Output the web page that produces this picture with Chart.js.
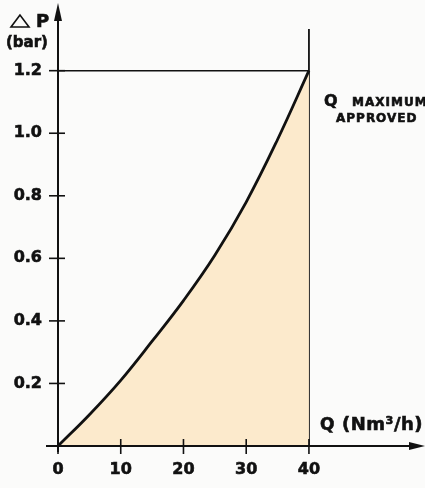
<!DOCTYPE html>
<html>
<head>
<meta charset="utf-8">
<script src="https://cdn.jsdelivr.net/npm/chart.js@4.4.1/dist/chart.umd.min.js"></script>
<style>
  html, body { margin: 0; padding: 0; background: #fbfbfa; }
  #wrap { width: 425px; height: 488px; }
</style>
</head>
<body>
<div id="wrap"><canvas id="myChart" width="425" height="488"></canvas></div>
<script>
// flow Q (Nm3/h) and pressure drop (bar)
const flowValues = [0, 5, 10, 15, 20, 25, 30, 35, 40];
const dropValues = [0, 0.10, 0.21, 0.335, 0.465, 0.61, 0.78, 0.98, 1.2];

const xTickLabels = [0, 10, 20, 30, 40];
const yTickLabels = [0.2, 0.4, 0.6, 0.8, 1.0, 1.2];

const maxFlow = 40;        // Q maximum approved
const maxDrop = 1.2;
const xAxisEnd = 58.5;     // axis runs on past the last label, to the arrow
const yAxisEnd = 1.41;
const limitLineTop = 1.333;

const labelFont = { family: 'DejaVu Sans', size: 16, weight: 'bold' };

// draws filled text with a thin outline so it looks as heavy as the print
function heavyText(ctx, text, x, y) {
    ctx.fillText(text, x, y);
    ctx.strokeText(text, x, y);
}

// axes with arrows, crossing tick marks and the text notes
const axesPlugin = {
    id: 'axesPlugin',
    afterDatasetsDraw(chart) {
        const ctx = chart.ctx;
        const xs = chart.scales.x;
        const ys = chart.scales.y;
        const x0 = xs.getPixelForValue(0);
        const y0 = ys.getPixelForValue(0);

        ctx.save();
        ctx.strokeStyle = '#111';
        ctx.fillStyle = '#111';
        ctx.lineWidth = 2;

        // y axis
        const yTop = ys.getPixelForValue(yAxisEnd);
        ctx.beginPath();
        ctx.moveTo(x0, y0 + 6);
        ctx.lineTo(x0, yTop + 10);
        ctx.stroke();
        ctx.beginPath();
        ctx.moveTo(x0, yTop - 2);
        ctx.lineTo(x0 - 4, yTop + 16);
        ctx.lineTo(x0 + 4, yTop + 16);
        ctx.closePath();
        ctx.fill();

        // x axis
        const xEnd = xs.getPixelForValue(xAxisEnd);
        ctx.beginPath();
        ctx.moveTo(x0 - 12, y0);
        ctx.lineTo(xEnd - 10, y0);
        ctx.stroke();
        ctx.beginPath();
        ctx.moveTo(xEnd, y0);
        ctx.lineTo(xEnd - 16, y0 - 4);
        ctx.lineTo(xEnd - 16, y0 + 4);
        ctx.closePath();
        ctx.fill();

        // tick marks crossing the axes
        ctx.lineWidth = 1.6;
        yTickLabels.forEach(v => {
            const py = ys.getPixelForValue(v);
            ctx.beginPath();
            ctx.moveTo(x0 - 9, py);
            ctx.lineTo(x0 + 7, py);
            ctx.stroke();
        });
        xTickLabels.forEach(v => {
            const px = xs.getPixelForValue(v);
            ctx.beginPath();
            ctx.moveTo(px, y0 - 7);
            ctx.lineTo(px, y0 + 8);
            ctx.stroke();
        });

        // axis titles
        ctx.lineWidth = 1.6;
        ctx.beginPath();
        ctx.moveTo(20, 15);
        ctx.lineTo(11, 27);
        ctx.lineTo(29, 27);
        ctx.closePath();
        ctx.stroke();
        ctx.lineWidth = 0.6;
        ctx.textBaseline = 'alphabetic';
        ctx.textAlign = 'left';
        ctx.font = 'bold 18px "DejaVu Sans"';
        heavyText(ctx, 'P', 36, 27);
        ctx.font = 'bold 15px "DejaVu Sans"';
        heavyText(ctx, '(bar)', 6, 47);

        ctx.font = 'bold 16px "DejaVu Sans"';
        heavyText(ctx, 'Q', 324, 106);
        ctx.font = 'bold 12px "DejaVu Sans"';
        ctx.letterSpacing = '1px';
        heavyText(ctx, 'MAXIMUM', 352, 106);
        heavyText(ctx, 'APPROVED', 336, 122);

        ctx.letterSpacing = '0px';
        ctx.font = 'bold 17px "DejaVu Sans"';
        heavyText(ctx, 'Q', 320, 430);
        ctx.font = 'bold 18px "DejaVu Sans"';
        ctx.letterSpacing = '0.5px';
        heavyText(ctx, '(Nm³/h)', 342, 430);
        ctx.restore();
    }
};

const ctx = document.getElementById('myChart').getContext('2d');

const config = {
    type: 'line',
    data: {
        datasets: [
            {
                label: 'curve',
                data: flowValues.map((q, i) => ({ x: q, y: dropValues[i] })),
                borderColor: '#111',
                borderWidth: 2.8,
                backgroundColor: 'rgba(252, 234, 204, 1)',
                fill: 'origin',
                pointRadius: 0,
                tension: 0.4
            },
            {
                label: 'max drop',
                data: [{ x: 0, y: maxDrop }, { x: maxFlow, y: maxDrop }],
                borderColor: '#111',
                borderWidth: 1.5,
                pointRadius: 0,
                fill: false
            },
            {
                label: 'max flow',
                data: [{ x: maxFlow, y: 0 }, { x: maxFlow, y: limitLineTop }],
                borderColor: '#111',
                borderWidth: 1.8,
                pointRadius: 0,
                fill: false
            }
        ]
    },
    options: {
        responsive: false,
        animation: false,
        layout: { padding: { top: 5, right: 0, left: 0, bottom: 0 } },
        plugins: {
            legend: { display: false },
            tooltip: { enabled: false }
        },
        scales: {
            x: {
                type: 'linear',
                min: 0,
                max: xAxisEnd,
                grid: { display: false },
                border: { display: false },
                afterFit(scale) {
                    scale.height = 42;
                    scale.paddingLeft = 0;
                    scale.paddingRight = 0;
                },
                afterBuildTicks(scale) {
                    scale.ticks = xTickLabels.map(v => ({ value: v }));
                },
                ticks: {
                    color: '#111',
                    font: labelFont,
                    textStrokeColor: '#111',
                    textStrokeWidth: 0.6,
                    padding: 6,
                    maxRotation: 0,
                    autoSkip: false,
                    callback: v => String(v)
                }
            },
            y: {
                type: 'linear',
                min: 0,
                max: yAxisEnd,
                grid: { display: false },
                border: { display: false },
                afterFit(scale) {
                    scale.width = 58;
                    scale.paddingTop = 0;
                    scale.paddingBottom = 0;
                },
                afterBuildTicks(scale) {
                    scale.ticks = yTickLabels.map(v => ({ value: v }));
                },
                ticks: {
                    color: '#111',
                    font: labelFont,
                    textStrokeColor: '#111',
                    textStrokeWidth: 0.6,
                    padding: 8,
                    autoSkip: false,
                    callback: v => Number(v).toFixed(1)
                }
            }
        }
    },
    plugins: [axesPlugin]
};

new Chart(ctx, config);
</script>
</body>
</html>
